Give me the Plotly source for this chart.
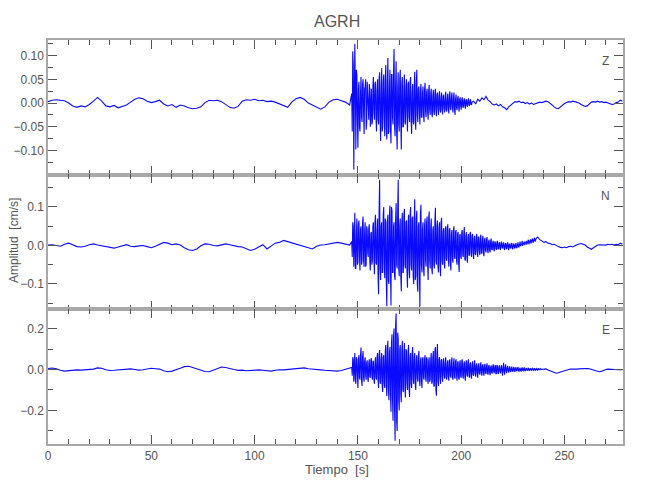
import numpy as np
import plotly.graph_objects as go
from plotly.subplots import make_subplots

# ---------------- data ----------------
# Quiet pre-event part: samples every 2 s from t = 0
z_quiet = [0.003, 0.006, 0.007, 0.006, 0.005, 0.0, -0.006, -0.009, -0.006, -0.008,
           -0.003, 0.004, 0.012, 0.004, -0.006, -0.008, -0.005, -0.010, -0.007, -0.004,
           0.002, 0.008, 0.011, 0.009, 0.004, 0.001, 0.003, 0.006, -0.002, -0.006,
           -0.003, -0.009, -0.004, -0.006, -0.010, -0.012, -0.011, -0.008, 0.001, 0.006,
           0.005, 0.006, 0.003, -0.004, -0.009, -0.011, -0.007, 0.004, 0.007, 0.006,
           0.008, 0.005, 0.006, 0.003, 0.004, 0.002, -0.002, -0.005, -0.009, 0.002,
           0.009, 0.012, 0.008, 0.0, -0.004, -0.009, -0.013, -0.008, 0.002, 0.007,
           0.008, 0.005, 0.002, -0.004]
# Strong motion: samples every 0.5 s from t = 147 s (on the half/whole seconds)
z_strong = [0.020, 0.109, -0.140, 0.125, -0.098, 0.060, -0.094, 0.045, -0.060, 0.055,
            -0.040, 0.050, -0.065, 0.035, -0.056, 0.045, -0.030, 0.040, -0.050, 0.030,
            -0.040, 0.055, -0.035, 0.045, -0.060, 0.050, -0.045, 0.065, -0.080, 0.074,
            -0.050, 0.060, -0.070, 0.080, -0.077, 0.095, -0.060, 0.070, -0.085, 0.060,
            -0.045, 0.114, -0.070, 0.088, -0.098, 0.065, -0.060, 0.070, -0.098, 0.055,
            -0.050, 0.060, -0.045, 0.050, -0.060, 0.045, -0.040, 0.055, -0.065, 0.040,
            -0.045, 0.066, -0.056, 0.070, -0.040, 0.035, -0.045, 0.040, -0.030, 0.035,
            -0.040, 0.043, -0.030, 0.030, -0.035, 0.038, -0.025, 0.030, -0.030, 0.028,
            -0.025, 0.030, -0.028, 0.022, -0.025, 0.025, -0.020, 0.022, -0.024, 0.018,
            -0.020, 0.024, -0.018, 0.020, -0.022, 0.025, -0.015, 0.022, -0.020, 0.022,
            -0.025, 0.018, -0.015, 0.015, -0.018, 0.012, -0.014, 0.012, -0.010, 0.010,
            -0.012, 0.008, -0.008, 0.010, -0.006, 0.008, -0.004]
# Strong motion: samples a quarter second after each of the above
z_mid = [-0.06, 0.08, -0.05, 0.04, 0.07, -0.04, 0.03, -0.05, 0.02, -0.03,
         0.04, -0.02, 0.03, 0.05, -0.04, 0.02, -0.035, 0.03, 0.02, -0.045,
         0.035, -0.02, 0.04, -0.03, 0.025, -0.035, 0.05, -0.04, 0.03, -0.06,
         0.045, -0.03, 0.05, -0.055, 0.04, -0.065, 0.035, -0.05, 0.06, -0.03,
         0.07, -0.05, 0.04, -0.06, 0.03, -0.045, 0.05, -0.035, 0.04, -0.05,
         0.03, -0.04, 0.035, -0.025, 0.04, -0.03, 0.045, -0.035, 0.02, -0.04,
         0.03, -0.035, 0.04, -0.025, 0.03, -0.02, 0.025, -0.03, 0.02, -0.025,
         0.028, -0.018, 0.022, -0.02, 0.025, -0.015, 0.02, -0.022, 0.015, -0.018,
         0.02, -0.015, 0.018, -0.012, 0.016, -0.014, 0.012, -0.015, 0.014, -0.01,
         0.012, -0.014, 0.01, -0.012, 0.015, -0.01, 0.012, -0.008, 0.01, -0.012,
         0.008, -0.01, 0.009, -0.007, 0.008, -0.006, 0.007, -0.008, 0.005, -0.006,
         0.006, -0.005, 0.005, -0.004, 0.004, -0.003, 0.002]
# Coda: samples every 1 s after the strong part
z_coda = [0.004, -0.002, 0.008, 0.004, 0.011, 0.007, 0.014, 0.006, 0.003, -0.002,
          -0.004, -0.002, -0.006, -0.003, -0.008, -0.010, -0.014, -0.008, -0.004, 0.001,
          0.003, 0.002, 0.004, 0.001, 0.002, -0.001, 0.001, -0.002, 0.000, -0.003,
          -0.001, 0.001, 0.002, 0.001, 0.003, 0.004, 0.003, 0.000, -0.004, -0.008,
          -0.011, -0.012, -0.008, -0.004, -0.001, 0.001, 0.003, 0.002, 0.004, 0.003,
          0.002, 0.000, -0.003, -0.005, -0.007, -0.006, -0.002, 0.002, 0.003, 0.002,
          0.004, 0.002, 0.003, 0.001, 0.002, 0.000, -0.002, -0.003, -0.002, 0.001,
          0.002, 0.006, 0.004]

n_quiet = [0.001, 0.002, 0.000, -0.002, 0.003, 0.006, 0.002, -0.003, -0.004, -0.002,
           0.002, 0.004, 0.001, -0.001, -0.003, -0.005, -0.007, -0.004, -0.001, 0.002,
           -0.002, -0.003, -0.001, 0.000, -0.003, -0.006, -0.002, 0.004, 0.008, 0.006,
           0.002, 0.004, 0.001, -0.006, -0.011, -0.013, -0.009, -0.001, 0.004, 0.003,
           0.000, -0.001, 0.002, 0.004, 0.002, -0.001, -0.003, -0.004, -0.008, -0.013,
           -0.010, -0.003, 0.002, -0.009, -0.002, 0.006, 0.008, 0.013, 0.010, 0.007,
           0.003, 0.000, -0.003, -0.006, -0.009, -0.002, 0.001, 0.002, 0.004, 0.006,
           0.008, 0.006, 0.003, 0.001]
n_strong = [0.010, 0.060, -0.055, 0.085, -0.060, 0.070, -0.045, 0.065, -0.065, 0.050,
            -0.040, 0.075, -0.055, 0.060, -0.050, 0.040, -0.030, 0.055, -0.065, 0.035,
            -0.040, 0.060, -0.075, 0.080, -0.050, 0.070, -0.127, 0.171, -0.090, 0.060,
            -0.070, 0.100, -0.085, 0.060, -0.158, 0.080, -0.100, 0.104, -0.156, 0.090,
            -0.070, 0.060, -0.090, 0.110, -0.060, 0.171, -0.080, 0.070, -0.119, 0.085,
            -0.070, 0.095, -0.060, 0.065, -0.110, 0.080, -0.085, 0.100, -0.065, 0.075,
            -0.100, 0.120, -0.080, 0.090, -0.120, 0.060, -0.158, 0.106, -0.070, 0.060,
            -0.080, 0.070, -0.055, 0.075, -0.090, 0.088, -0.060, 0.070, -0.075, 0.050,
            -0.060, 0.098, -0.050, 0.065, -0.070, 0.060, -0.080, 0.072, -0.050, 0.045,
            -0.060, 0.050, -0.040, 0.055, -0.055, 0.045, -0.065, 0.040, -0.045, 0.050,
            -0.035, 0.040, -0.050, 0.035, -0.069, 0.030, -0.035, 0.040, -0.030, 0.048,
            -0.040, 0.035, -0.045, 0.030, -0.025, 0.035, -0.030, 0.030, -0.035, 0.025,
            -0.025, 0.030, -0.030, 0.022, -0.025, 0.028, -0.020, 0.025, -0.028, 0.020,
            -0.018, 0.022, -0.020, 0.015, -0.018, 0.018, -0.012, 0.012, -0.015, 0.010,
            -0.012, 0.012, -0.010, 0.008, -0.012, 0.010, -0.008, 0.008, -0.012, 0.006,
            -0.010, 0.008, -0.012, 0.004, -0.008, 0.006, -0.010, 0.005, -0.008, 0.006,
            -0.006, 0.008, -0.004, 0.010, 0.000, 0.012, 0.004, 0.010, 0.004, 0.012,
            0.006, 0.015, 0.008, 0.016, 0.010, 0.018, 0.012, 0.020, 0.014]
n_mid = [-0.03, 0.05, 0.04, -0.06, 0.03, -0.05, 0.055, -0.03, 0.04, -0.05,
         0.06, -0.04, 0.035, -0.055, 0.05, -0.02, 0.045, -0.04, 0.03, -0.05,
         0.05, -0.035, 0.06, -0.045, 0.04, -0.08, 0.09, -0.06, 0.05, -0.07,
         0.08, -0.05, 0.07, -0.1, 0.06, -0.09, 0.08, -0.06, 0.1, -0.07,
         0.05, -0.08, 0.07, -0.05, 0.09, -0.06, 0.05, -0.08, 0.06, -0.07,
         0.08, -0.05, 0.06, -0.07, 0.05, -0.06, 0.08, -0.05, 0.07, -0.08,
         0.06, -0.09, 0.07, -0.1, 0.05, -0.06, 0.08, -0.05, 0.04, -0.06,
         0.05, -0.04, 0.06, -0.05, 0.07, -0.04, 0.05, -0.06, 0.04, -0.05,
         0.06, -0.04, 0.05, -0.055, 0.045, -0.05, 0.06, -0.04, 0.035, -0.045,
         0.04, -0.035, 0.045, -0.03, 0.04, -0.045, 0.03, -0.035, 0.04, -0.03,
         0.035, -0.04, 0.03, -0.045, 0.025, -0.03, 0.035, -0.025, 0.03, -0.035,
         0.025, -0.03, 0.02, -0.025, 0.03, -0.02, 0.025, -0.02, 0.018, -0.022,
         0.02, -0.018, 0.022, -0.015, 0.018, -0.02, 0.015, -0.018, 0.014, -0.012,
         0.015, -0.012, 0.01, -0.013, 0.012, -0.01, 0.008, -0.01, 0.009, -0.007,
         0.008, -0.009, 0.006, -0.008, 0.007, -0.006, 0.005, -0.008, 0.004, -0.006,
         0.005, -0.007, 0.003, -0.006, 0.004, -0.008, 0.002, -0.005, 0.003, -0.006,
         0.002, -0.004, 0.003, -0.002, 0.004, -0.001, 0.006, 0.001, 0.007, 0.002,
         0.008, 0.003, 0.01, 0.005, 0.012, 0.007, 0.014, 0.01, 0.018]
n_coda = [0.022, 0.015, 0.012, 0.008, 0.010, 0.006, 0.005, 0.002, 0.003, -0.001,
          -0.003, -0.005, -0.006, -0.004, -0.006, -0.003, -0.002, -0.004, 0.000, 0.002,
          0.004, 0.005, 0.003, 0.001, -0.004, -0.008, -0.010, -0.006, -0.002, 0.001,
          0.002, 0.001, 0.002, 0.001, 0.003, 0.002, 0.003, 0.001, 0.003, 0.002,
          0.006, 0.003]

e_quiet = [0.005, 0.007, 0.004, -0.004, -0.008, -0.006, -0.003, -0.002, -0.003, -0.001,
           -0.002, 0.002, 0.008, 0.006, -0.001, -0.005, -0.004, -0.002, 0.000, 0.001,
           0.003, 0.000, -0.003, -0.001, 0.003, 0.006, 0.004, 0.002, -0.006, -0.011,
           -0.008, -0.002, 0.006, 0.014, 0.016, 0.010, 0.004, -0.002, -0.010, -0.011,
           -0.003, 0.006, 0.012, 0.010, 0.004, 0.000, -0.004, -0.003, -0.006, -0.004,
           -0.003, -0.002, -0.004, -0.007, -0.008, -0.004, -0.001, -0.002, 0.000, 0.002,
           0.003, 0.006, 0.008, 0.004, 0.001, 0.000, -0.002, -0.004, -0.006, -0.008,
           -0.008, -0.005, 0.000, 0.004]
e_strong = [0.010, 0.060, -0.060, 0.080, -0.070, 0.050, -0.090, 0.070, -0.050, 0.107,
            -0.080, 0.090, -0.060, 0.060, -0.050, 0.045, -0.060, 0.050, -0.040, 0.055,
            -0.050, 0.040, -0.070, 0.060, -0.050, 0.080, -0.090, 0.095, -0.070, 0.080,
            -0.110, 0.070, -0.090, 0.120, -0.130, 0.140, -0.150, 0.110, -0.206, 0.172,
            -0.250, 0.200, -0.348, 0.274, -0.300, 0.150, -0.200, 0.120, -0.160, 0.140,
            -0.110, 0.130, -0.137, 0.090, -0.100, 0.120, -0.134, 0.080, -0.090, 0.110,
            -0.070, 0.080, -0.100, 0.070, -0.060, 0.090, -0.080, 0.060, -0.090, 0.060,
            -0.050, 0.070, -0.060, 0.050, -0.070, 0.060, -0.050, 0.080, -0.060, 0.090,
            -0.080, 0.110, -0.128, 0.124, -0.080, 0.060, -0.070, 0.050, -0.060, 0.055,
            -0.045, 0.060, -0.050, 0.045, -0.055, 0.050, -0.040, 0.060, -0.050, 0.055,
            -0.045, 0.050, -0.055, 0.040, -0.050, 0.045, -0.040, 0.050, -0.045, 0.040,
            -0.055, 0.045, -0.035, 0.050, -0.040, 0.035, -0.045, 0.040, -0.030, 0.045,
            -0.035, 0.030, -0.040, 0.030, -0.025, 0.035, -0.030, 0.025, -0.030, 0.028,
            -0.022, 0.030, -0.025, 0.022, -0.028, 0.020, -0.020, 0.025, -0.018, 0.022,
            -0.020, 0.018, -0.022, 0.020, -0.018, 0.022, -0.030, 0.033, -0.025, 0.025,
            -0.018, 0.018, -0.015, 0.015, -0.012, 0.014, -0.010, 0.012, -0.012, 0.010,
            -0.008, 0.012, -0.010, 0.008, -0.008, 0.010, -0.006, 0.008, -0.008, 0.007,
            -0.006, 0.008, -0.005, 0.006, -0.006, 0.008, -0.004, 0.006, -0.005, 0.005,
            -0.004, 0.006, -0.002, 0.004, 0.000, 0.003, 0.002]
e_mid = [-0.03, 0.05, 0.04, -0.05, 0.06, -0.03, 0.05, -0.04, 0.07, -0.05,
         0.06, -0.04, 0.04, -0.03, 0.035, -0.045, 0.03, -0.035, 0.045, -0.03,
         0.04, -0.05, 0.03, -0.04, 0.06, -0.05, 0.07, -0.06, 0.05, -0.08,
         0.06, -0.07, 0.09, -0.08, 0.1, -0.09, 0.08, -0.12, 0.13, -0.15,
         0.16, -0.2, 0.22, -0.25, 0.18, -0.15, 0.1, -0.12, 0.09, -0.1,
         0.08, -0.09, 0.1, -0.07, 0.08, -0.09, 0.06, -0.07, 0.08, -0.05,
         0.06, -0.07, 0.05, -0.04, 0.06, -0.05, 0.04, -0.06, 0.05, -0.04,
         0.05, -0.04, 0.06, -0.05, 0.04, -0.06, 0.05, -0.07, 0.06, -0.08,
         0.09, -0.1, 0.08, -0.06, 0.05, -0.04, 0.045, -0.035, 0.04, -0.03,
         0.035, -0.04, 0.03, -0.035, 0.04, -0.03, 0.035, -0.04, 0.03, -0.035,
         0.04, -0.03, 0.035, -0.04, 0.03, -0.035, 0.04, -0.03, 0.025, -0.035,
         0.03, -0.025, 0.035, -0.03, 0.025, -0.03, 0.02, -0.025, 0.022, -0.018,
         0.02, -0.022, 0.018, -0.02, 0.015, -0.018, 0.02, -0.015, 0.018, -0.016,
         0.015, -0.018, 0.014, -0.016, 0.012, -0.015, 0.016, -0.012, 0.014, -0.02,
         0.022, -0.018, 0.015, -0.012, 0.01, -0.012, 0.009, -0.008, 0.01, -0.007,
         0.008, -0.006, 0.007, -0.008, 0.006, -0.007, 0.005, -0.006, 0.007, -0.005,
         0.006, -0.005, 0.004, -0.006, 0.005, -0.004, 0.006, -0.005, 0.004, -0.003,
         0.004, -0.004, 0.003, -0.003, 0.004, -0.002, 0.003, -0.002, 0.002, -0.001,
         0.002, -0.001, 0.002, 0.000, 0.002, 0.001, 0.003]
e_coda = [0.003, -0.002, -0.006, -0.010, -0.015, -0.018, -0.016, -0.012, -0.008, -0.004,
          -0.002, 0.000, 0.002, 0.001, 0.003, 0.002, 0.003, 0.004, 0.003, 0.004,
          0.005, 0.004, 0.002, -0.002, -0.006, -0.009, -0.011, -0.008, -0.003, 0.000,
          0.002, 0.001, 0.002, 0.000, 0.001, -0.001, 0.000, -0.001]

components = ["Z", "N", "E"]
quiet_step, strong_start, strong_step, coda_step = 2.0, 147.0, 0.5, 1.0
x_range = [0, 278.3]
y_ranges = [[-0.151, 0.133], [-0.166, 0.184], [-0.364, 0.294]]
y_ticks = [[-0.10, -0.05, 0.00, 0.05, 0.10], [-0.1, 0.0, 0.1], [-0.2, 0.0, 0.2]]
y_minor = [0.025, 0.05, 0.1]
y_fmt = [".2f", ".1f", ".1f"]
x_ticks = [0, 50, 100, 150, 200, 250]


def build(quiet, strong, mid, coda):
    tq = quiet_step * np.arange(len(quiet))
    n = min(len(strong), len(mid))
    vs = np.empty(2 * n)
    vs[0::2] = strong[:n]
    vs[1::2] = mid[:n]
    ts = strong_start + (strong_step / 2) * np.arange(2 * n)
    tc = strong_start + strong_step * n + coda_step / 2 + coda_step * np.arange(len(coda))
    return (np.concatenate([tq, ts, tc]),
            np.concatenate([np.array(quiet), vs, np.array(coda)]))


traces = [build(z_quiet, z_strong, z_mid, z_coda),
          build(n_quiet, n_strong, n_mid, n_coda),
          build(e_quiet, e_strong, e_mid, e_coda)]

FONT = "Liberation Sans, Arial, sans-serif"
GRAY = "#555555"
LINE = "#a8a8a8"

# the page body adds an 8 px offset; work in screen pixels and subtract it
OFF = 8
W, H = 650 - OFF, 500 - OFF
ML, MT = 48 - OFF, 40 - OFF
MR, MB = W - (623 - OFF), H - (444 - OFF)
PW, PH = W - ML - MR, H - MT - MB

fig = make_subplots(rows=3, cols=1, shared_xaxes=True, vertical_spacing=0)

for i, (t, v) in enumerate(traces):
    r = i + 1
    fig.add_trace(go.Scatter(x=t, y=v, mode="lines",
                             line=dict(color="#0a0aff", width=1.1),
                             showlegend=False, hoverinfo="skip"), row=r, col=1)
    fig.update_yaxes(row=r, col=1, range=y_ranges[i], tickvals=y_ticks[i],
                     tickformat=y_fmt[i], ticks="inside", ticklen=9, tickwidth=1,
                     tickcolor=GRAY, showline=True, linecolor=LINE, linewidth=1.5,
                     mirror="ticks", showgrid=False, zeroline=False, automargin=False,
                     minor=dict(ticks="inside", ticklen=5, dtick=y_minor[i],
                                tick0=0, tickcolor=GRAY, showgrid=False),
                     tickfont=dict(family=FONT, size=12, color=GRAY))
    fig.update_xaxes(row=r, col=1, range=x_range, tickvals=x_ticks,
                     ticks="inside", ticklen=9, tickwidth=1, tickcolor=GRAY,
                     showline=True, linecolor=LINE, linewidth=1.5, mirror="ticks",
                     showgrid=False, zeroline=False, automargin=False,
                     minor=dict(ticks="inside", ticklen=5, dtick=10, tick0=0,
                                tickcolor=GRAY, showgrid=False),
                     showticklabels=(r == 3),
                     tickfont=dict(family=FONT, size=12, color=GRAY))
    fig.add_annotation(text=components[i], xref=f"x{'' if r == 1 else r} domain",
                       yref=f"y{'' if r == 1 else r} domain", x=0.97, y=0.845,
                       showarrow=False, xanchor="center", yanchor="middle",
                       font=dict(family=FONT, size=12, color=GRAY))


def px_x(px):
    return (px - OFF - ML) / PW


def px_y(py):
    return 1 - (py - OFF - MT) / PH


fig.add_annotation(text="Tiempo  [s]", xref="paper", yref="paper",
                   x=px_x(337), y=px_y(469), showarrow=False,
                   xanchor="center", yanchor="middle",
                   font=dict(family=FONT, size=13, color=GRAY))
fig.add_annotation(text="Amplitud  [cm/s]", xref="paper", yref="paper",
                   x=px_x(14), y=px_y(241), showarrow=False, textangle=-90,
                   xanchor="center", yanchor="middle",
                   font=dict(family=FONT, size=12, color=GRAY))
fig.add_annotation(text="AGRH", xref="paper", yref="paper",
                   x=px_x(337), y=px_y(22), showarrow=False,
                   xanchor="center", yanchor="middle",
                   font=dict(family=FONT, size=16, color=GRAY))

fig.update_layout(
    width=W, height=H,
    margin=dict(l=ML, r=MR, t=MT, b=MB, autoexpand=False),
    paper_bgcolor="white", plot_bgcolor="white",
)

fig.write_html("out.html")
